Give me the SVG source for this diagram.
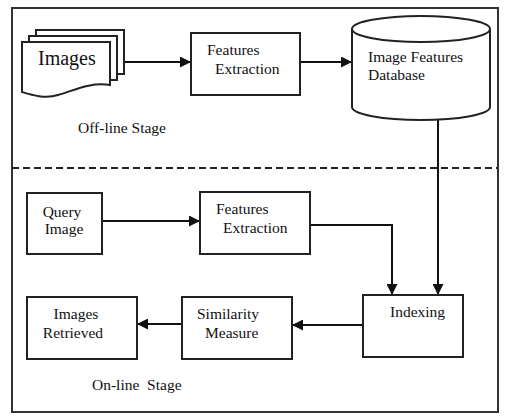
<svg xmlns="http://www.w3.org/2000/svg" width="505" height="418" viewBox="0 0 505 418">
<defs>
<marker id="ah" markerUnits="userSpaceOnUse" markerWidth="11" markerHeight="11" refX="11" refY="5.5" orient="auto">
<path d="M0,0 L11,5.5 L0,11 z" fill="#111"/>
</marker>
<style>
.s{fill:#fff;stroke:#222;stroke-width:2}
.t{font-family:"Liberation Serif","Times New Roman",serif;font-size:15.5px;fill:#111}
.c{fill:none;stroke:#111;stroke-width:2;marker-end:url(#ah)}
</style>
</defs>
<rect x="0" y="0" width="505" height="418" fill="#fff"/>
<rect id="frame" x="12" y="8" width="486" height="404" fill="none" stroke="#333" stroke-width="2"/>
<line id="divider" x1="12" y1="168" x2="498" y2="168" stroke="#222" stroke-width="2" stroke-dasharray="7,4"/>

<g id="connectors">
<line class="c" x1="110" y1="62" x2="191" y2="62"/>
<line class="c" x1="300" y1="62" x2="352" y2="62"/>
<line class="c" x1="438" y1="120" x2="438" y2="295"/>
<line class="c" x1="102" y1="221" x2="200" y2="221"/>
<polyline class="c" points="310,225 392,225 392,295"/>
<line class="c" x1="363" y1="325" x2="292" y2="325"/>
<line class="c" x1="182" y1="324" x2="137" y2="324"/>
</g>

<g id="images">
<path class="s" d="M36,30 H124 V74 H36 z"/>
<path class="s" d="M29,36 H117 V80 H29 z"/>
<path class="s" d="M22,42 H110 V85 C90,82 75,90 58,95 C45,99 32,95 22,92 z"/>
<text class="t" x="38" y="65" style="font-size:20px">Images</text>
</g>

<g id="fe1">
<rect class="s" x="191" y="33" width="109" height="62"/>
<text class="t" x="207" y="55">Features</text>
<text class="t" x="215" y="74">Extraction</text>
</g>

<g id="db">
<path class="s" d="M352,29 V107 A69,13 0 0 0 490,107 V29"/>
<ellipse class="s" cx="421" cy="29" rx="69" ry="13"/>
<text class="t" x="368" y="62">Image Features</text>
<text class="t" x="368" y="80">Database</text>
</g>

<text id="offline" class="t" x="78" y="133">Off-line Stage</text>

<g id="query">
<rect class="s" x="27" y="193" width="75" height="61"/>
<text class="t" x="62" y="217" text-anchor="middle">Query</text>
<text class="t" x="64" y="234" text-anchor="middle">Image</text>
</g>

<g id="fe2">
<rect class="s" x="200" y="192" width="110" height="62"/>
<text class="t" x="216" y="214">Features</text>
<text class="t" x="223" y="233">Extraction</text>
</g>

<g id="indexing">
<rect class="s" x="363" y="295" width="100" height="62"/>
<text class="t" x="390" y="317">Indexing</text>
</g>

<g id="similarity">
<rect class="s" x="182" y="297" width="110" height="62"/>
<text class="t" x="197" y="319">Similarity</text>
<text class="t" x="205" y="338">Measure</text>
</g>

<g id="retrieved">
<rect class="s" x="27" y="297" width="110" height="62"/>
<text class="t" x="76" y="319" text-anchor="middle">Images</text>
<text class="t" x="73" y="338" text-anchor="middle">Retrieved</text>
</g>

<text id="online" class="t" x="92" y="390" xml:space="preserve" style="white-space:pre">On-line  Stage</text>
</svg>
